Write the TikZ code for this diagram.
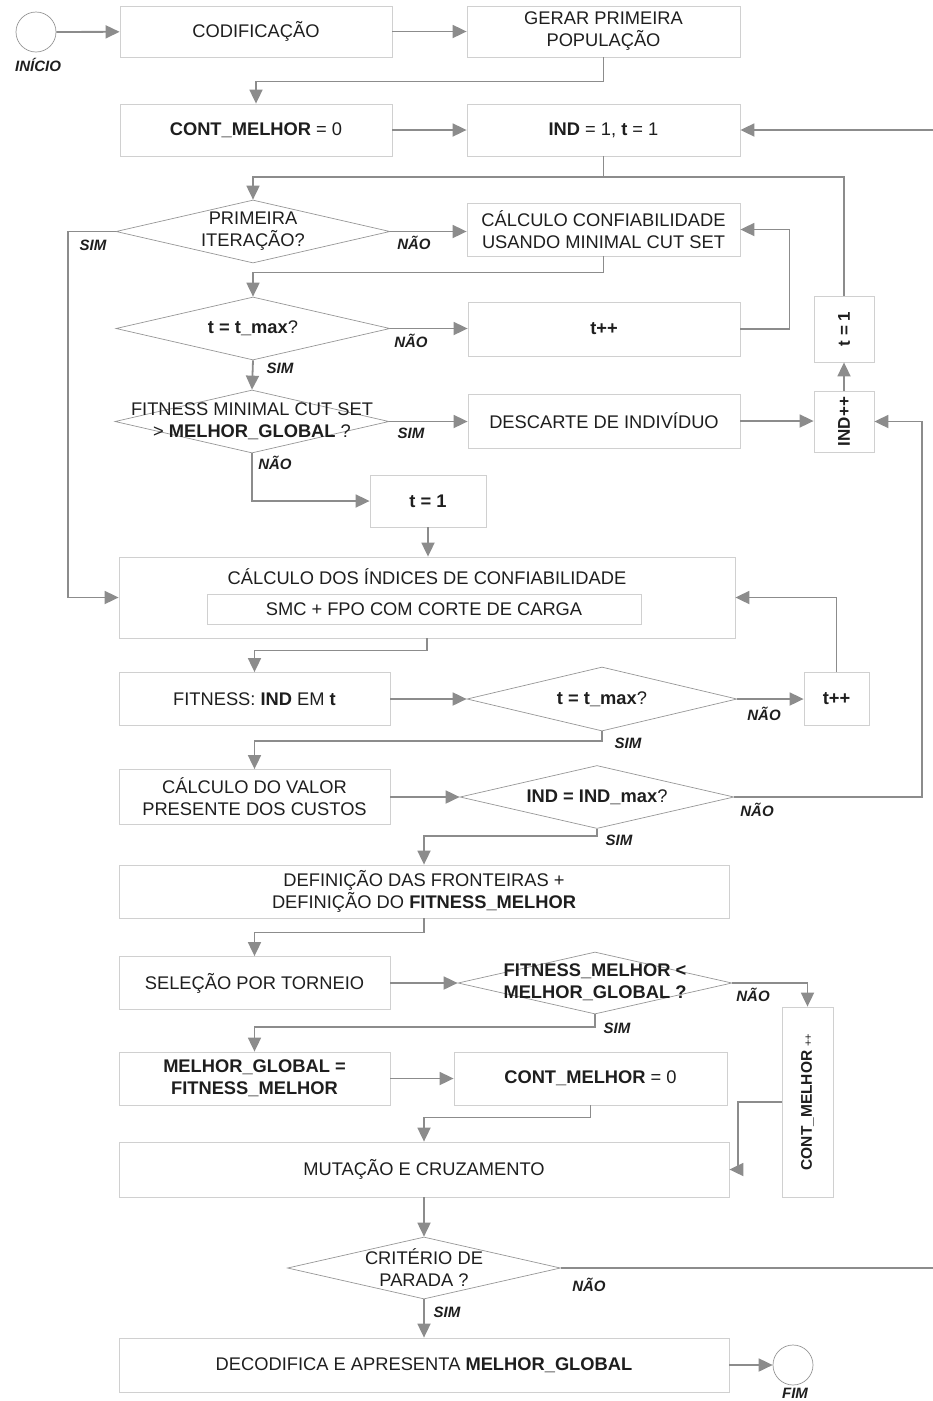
\documentclass[tikz,border=0pt]{standalone}
\usepackage{fontspec}
\setmainfont{Liberation Sans}
\usetikzlibrary{arrows.meta,shapes.geometric}
\definecolor{conn}{RGB}{140,140,140}
\definecolor{boxline}{RGB}{208,208,208}
\definecolor{dline}{RGB}{150,150,150}
\definecolor{txt}{RGB}{30,30,30}
\newcommand{\fmain}{\fontsize{18.3}{22}\selectfont}
\newcommand{\flbl}{\fontsize{15}{18}\selectfont\bfseries\itshape}
\newcommand{\frot}{\fontsize{17}{20}\selectfont\bfseries}
\newcommand{\fcm}{\fontsize{15.5}{18}\selectfont}
\begin{document}
\begin{tikzpicture}[x=1pt,y=-1pt,
  every node/.style={text=txt},
  box/.style={draw=boxline, line width=0.8pt, rectangle, inner sep=0pt, align=center, font=\fmain},
  dia/.style={draw=dline, line width=0.7pt, diamond, inner sep=0pt, minimum width=274pt, minimum height=63pt},
  dtext/.style={align=center, font=\fmain, inner sep=0pt},
  lbl/.style={font=\flbl, inner sep=0pt},
  wire/.style={draw=conn, line width=1.8pt},
  arr/.style={wire, -{Triangle[length=14pt,width=13pt]}},
  endc/.style={circle, draw=dline, line width=0.7pt, minimum size=40pt, inner sep=0pt}
]
\useasboundingbox (0,0) rectangle (933,1401);

% ---- nodes ----
\node[endc] (start) at (36,32) {};
\node[lbl] (inicio) at (38,65) {INÍCIO};
\node[box, minimum width=272pt, minimum height=51pt] (cod) at (256,31.5) {CODIFICAÇÃO};
\node[box, minimum width=273pt, minimum height=51pt] (gerar) at (603.5,31.5) {GERAR PRIMEIRA\\POPULAÇÃO};
\node[box, minimum width=272pt, minimum height=52pt] (cont0) at (256,130) {\textbf{CONT\_MELHOR} = 0};
\node[box, minimum width=273pt, minimum height=52pt] (ind) at (603.5,130) {\textbf{IND} = 1, \textbf{t} = 1};

\node[dia] (d1) at (253,231.5) {};
\node[dtext] (d1t) at (d1) {PRIMEIRA\\ITERAÇÃO?};
\node[box, minimum width=273pt, minimum height=53pt] (calc) at (603.5,229.5) {CÁLCULO CONFIABILIDADE\\USANDO MINIMAL CUT SET};

\node[dia] (d2) at (253,328.5) {};
\node[dtext] (d2t) at (d2) {\textbf{t = t\_max}?};
\node[box, minimum width=272pt, minimum height=54pt] (tpp1) at (604,329) {\textbf{t++}};

\node[box, minimum width=60pt, minimum height=66pt] (t1rot) at (844,329) {};
\node[rotate=90, font=\frot, inner sep=0pt] (t1rott) at (t1rot) {t = 1};

\node[dia] (d3) at (252,421.5) {};
\node[dtext] (d3t) at (252,421) {FITNESS MINIMAL CUT SET\\> \textbf{MELHOR\_GLOBAL} ?};
\node[box, minimum width=272pt, minimum height=54pt] (desc) at (604,421) {DESCARTE DE INDIVÍDUO};
\node[box, minimum width=60pt, minimum height=61pt] (indpp) at (844,421.5) {};
\node[rotate=90, font=\frot, inner sep=0pt] (indppt) at (indpp) {IND++};

\node[box, minimum width=116pt, minimum height=52pt] (t1) at (428,501) {\textbf{t = 1}};

\node[box, minimum width=616pt, minimum height=81pt] (big) at (427,597.5) {};
\node[dtext] (bigt) at (427,577) {CÁLCULO DOS ÍNDICES DE CONFIABILIDADE};
\node[box, minimum width=434pt, minimum height=30pt] (smc) at (424,609) {SMC + FPO COM CORTE DE CARGA};

\node[box, minimum width=271pt, minimum height=53pt] (fit) at (254.5,699) {FITNESS: \textbf{IND} EM \textbf{t}};
\node[dia, minimum width=270pt, minimum height=64pt] (d4) at (602,699) {};
\node[dtext] (d4t) at (d4) {\textbf{t = t\_max}?};
\node[box, minimum width=65pt, minimum height=53pt] (tpp2) at (836.5,699) {\textbf{t++}};

\node[box, minimum width=271pt, minimum height=55pt] (valor) at (254.5,797) {CÁLCULO DO VALOR\\PRESENTE DOS CUSTOS};
\node[dia] (d5) at (597,797) {};
\node[dtext] (d5t) at (d5) {\textbf{IND = IND\_max}?};

\node[box, minimum width=610pt, minimum height=53pt] (def) at (424,891.5) {DEFINIÇÃO DAS FRONTEIRAS +\\DEFINIÇÃO DO \textbf{FITNESS\_MELHOR}};

\node[box, minimum width=271pt, minimum height=53pt] (sel) at (254.5,983) {SELEÇÃO POR TORNEIO};
\node[dia, minimum height=62pt] (d6) at (595,983) {};
\node[dtext] (d6t) at (595,982) {\textbf{FITNESS\_MELHOR <}\\\textbf{MELHOR\_GLOBAL ?}};
\node[box, minimum width=51pt, minimum height=190pt] (cmpp) at (807.5,1102) {};
\node[rotate=90, font=\fcm, inner sep=0pt] (cmppt) at (cmpp) {\textbf{CONT\_MELHOR} {\fontsize{11}{12}\selectfont ++}};

\node[box, minimum width=271pt, minimum height=53pt] (mg) at (254.5,1078.5) {\textbf{MELHOR\_GLOBAL =}\\\textbf{FITNESS\_MELHOR}};
\node[box, minimum width=273pt, minimum height=53pt] (c0b) at (590.5,1078.5) {\textbf{CONT\_MELHOR} = 0};

\node[box, minimum width=610pt, minimum height=55pt] (mut) at (424,1169.5) {MUTAÇÃO E CRUZAMENTO};

\node[dia, minimum width=273pt, minimum height=62pt] (d7) at (424,1268) {};
\node[dtext] (d7t) at (d7) {CRITÉRIO DE\\PARADA ?};

\node[box, minimum width=610pt, minimum height=54pt] (dec) at (424,1365) {DECODIFICA E APRESENTA \textbf{MELHOR\_GLOBAL}};
\node[endc] (fim) at (793,1365) {};
\node[lbl] (fimt) at (795,1393) {FIM};

% ---- labels ----
\node[lbl] at (93,245) {SIM};
\node[lbl] at (414,243) {NÃO};
\node[lbl] at (411,341) {NÃO};
\node[lbl] at (280,368) {SIM};
\node[lbl] at (411,433) {SIM};
\node[lbl] at (275,463) {NÃO};
\node[lbl] at (764,714) {NÃO};
\node[lbl] at (628,743) {SIM};
\node[lbl] at (757,810) {NÃO};
\node[lbl] at (619,840) {SIM};
\node[lbl] at (753,995) {NÃO};
\node[lbl] at (617,1028) {SIM};
\node[lbl] at (589,1285) {NÃO};
\node[lbl] at (447,1312) {SIM};

% ---- connectors ----
\coordinate (j1) at (603.5,177);
\draw[arr] (start) -- (cod);
\draw[arr] (cod) -- (gerar);
\draw[arr] (gerar.south) -- ++(0,24) -| (cont0.north);
\draw[arr] (cont0) -- (ind);
\draw[arr] (d7.east) -- (934.5,1268) |- (ind.east);
\draw[arr] (ind.south) -- (j1) -| (d1.north);
\draw[wire] (t1rot.north) |- (j1);
\draw[arr] (d1.west) -- ++(-48,0) |- (big.west);
\draw[arr] (d1.east) -- (d1.east -| calc.west);
\draw[arr] (calc.south) -- ++(0,16) -| (d2.north);
\draw[arr] (d2.east) -- (d2.east -| tpp1.west);
\draw[arr] (tpp1.east) -- ++(49,0) |- (calc.east);
\draw[arr] (d2.south) -- (d3.north);
\draw[arr] (d3.east) -- (d3.east -| desc.west);
\draw[arr] (desc.east) -- (desc.east -| indpp.west);
\draw[arr] (indpp.north) -- (t1rot.south);
\draw[arr] (d5.east) -- (922,797) |- (indpp.east);
\draw[arr] (d3.south) |- (t1.west);
\draw[arr] (t1.south) -- (t1.south |- big.north);
\draw[arr] (tpp2.north) |- (big.east);
\draw[arr] (big.south) -- ++(0,12) -| (fit.north);
\draw[arr] (fit.east) -- (d4.west);
\draw[arr] (d4.east) -- (tpp2.west);
\draw[arr] (d4.south) -- ++(0,10) -| (valor.north);
\draw[arr] (valor.east) -- (d5.west);
\draw[arr] (d5.south) -- ++(0,7) -| (def.north);
\draw[arr] (def.south) -- ++(0,14) -| (sel.north);
\draw[arr] (sel.east) -- (d6.west);
\draw[arr] (d6.east) -| (cmpp.north);
\draw[arr] (d6.south) -- ++(0,13) -| (mg.north);
\draw[arr] (mg.east) -- (c0b.west);
\draw[arr] (c0b.south) -- ++(0,12) -| (mut.north);
\draw[arr] (cmpp.west) -- ++(-44,0) |- (mut.east);
\draw[arr] (mut.south) -- (d7.north);
\draw[arr] (d7.south) -- (dec.north);
\draw[arr] (dec.east) -- (fim.west);
\end{tikzpicture}
\end{document}
